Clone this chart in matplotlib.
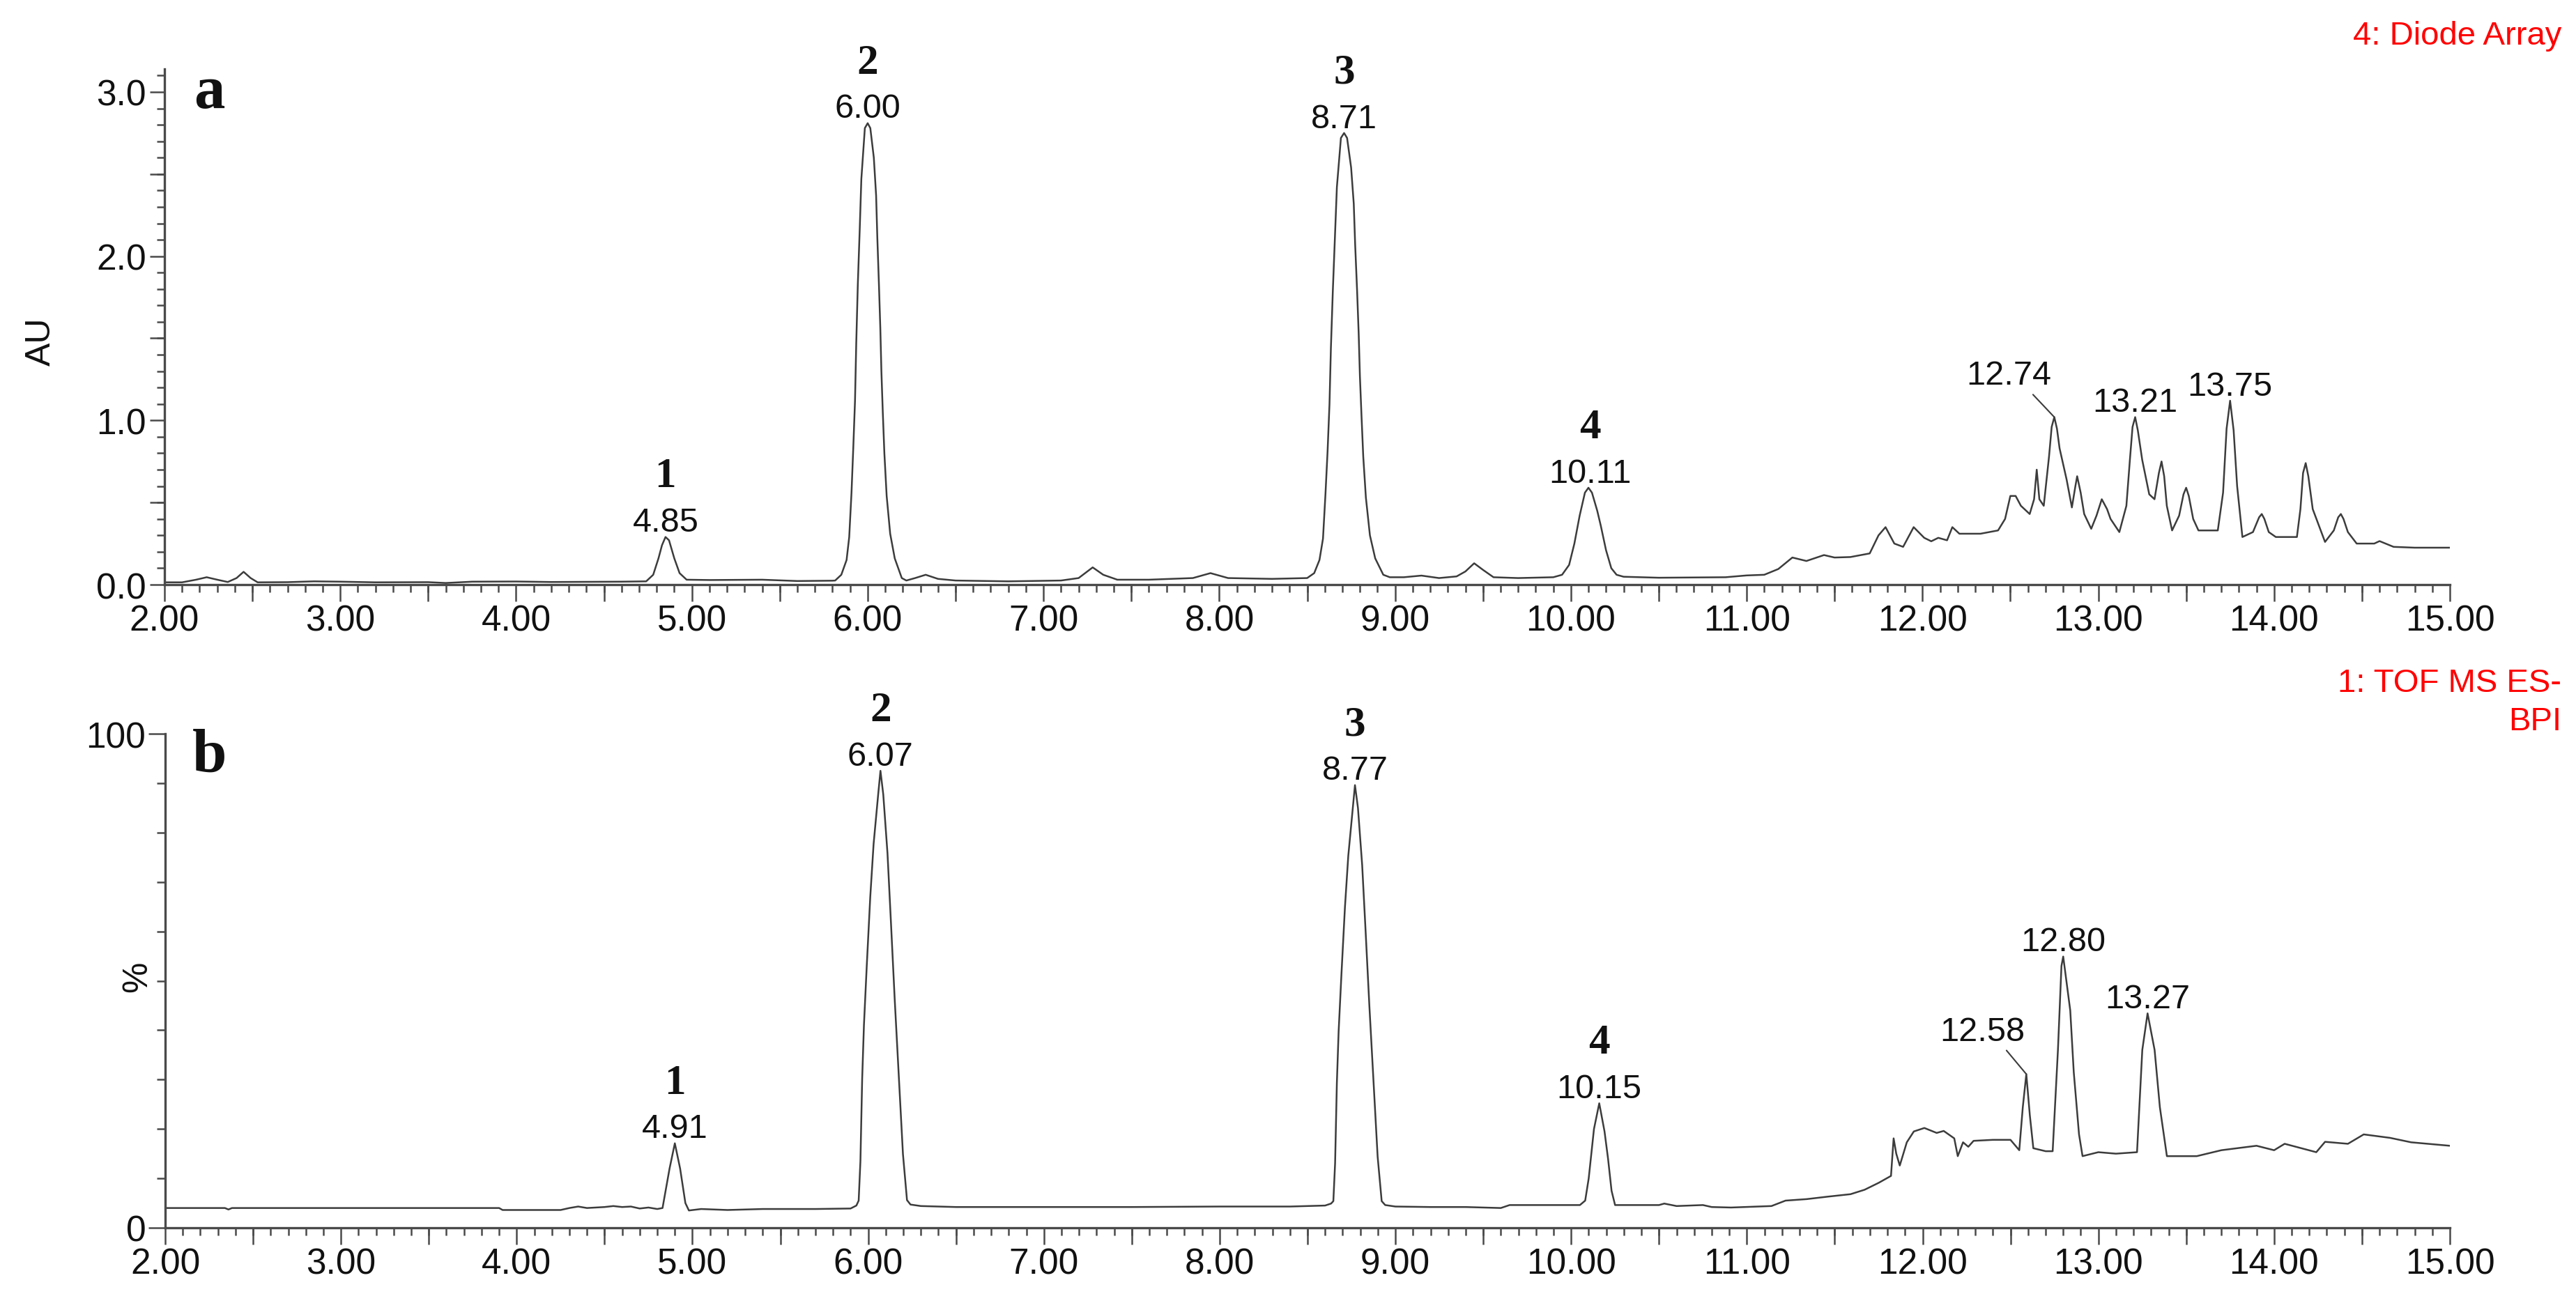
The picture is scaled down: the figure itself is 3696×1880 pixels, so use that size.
import matplotlib
matplotlib.use("Agg")
import matplotlib.pyplot as plt
from matplotlib.ticker import MultipleLocator, FixedLocator, FormatStrFormatter

plt.rcParams['font.family'] = ['Liberation Sans', 'DejaVu Sans']

# ---------------- data: panel a (Diode Array, AU) ----------------
time_a = [2.00, 2.10, 2.18, 2.24, 2.30, 2.36, 2.41, 2.45, 2.49, 2.53, 2.70, 2.85, 3.00, 3.20, 3.50, 3.60,
          3.75, 4.00, 4.20, 4.40, 4.60, 4.74, 4.78, 4.81, 4.83, 4.85, 4.87, 4.90, 4.93, 4.97, 5.10, 5.40,
          5.60, 5.80, 5.815, 5.85, 5.88, 5.895, 5.908, 5.918, 5.928, 5.935, 5.944, 5.955, 5.964, 5.984,
          6.000, 6.015, 6.035, 6.048, 6.055, 6.064, 6.072, 6.078, 6.086, 6.095, 6.108, 6.128, 6.154,
          6.194, 6.22, 6.27, 6.33, 6.40, 6.50, 6.80, 7.10, 7.20, 7.28, 7.34, 7.42, 7.60, 7.85, 7.95,
          8.05, 8.30, 8.50, 8.54, 8.57, 8.59, 8.604, 8.616, 8.627, 8.635, 8.646, 8.658, 8.669, 8.692,
          8.710, 8.727, 8.750, 8.765, 8.773, 8.784, 8.793, 8.800, 8.809, 8.819, 8.834, 8.857, 8.887,
          8.933, 8.97, 9.05, 9.15, 9.25, 9.35, 9.40, 9.45, 9.50, 9.56, 9.70, 9.90, 9.95, 9.99, 10.02,
          10.05, 10.08, 10.10, 10.12, 10.15, 10.17, 10.20, 10.23, 10.26, 10.30, 10.50, 10.88, 11.00,
          11.10, 11.18, 11.26, 11.34, 11.44, 11.50, 11.59, 11.70, 11.75, 11.79, 11.84, 11.89, 11.95,
          12.01, 12.05, 12.09, 12.14, 12.17, 12.21, 12.33, 12.43, 12.47, 12.50, 12.53, 12.56, 12.61,
          12.635, 12.65, 12.665, 12.69, 12.72, 12.735, 12.75, 12.765, 12.78, 12.82, 12.85, 12.87,
          12.88, 12.90, 12.92, 12.96, 12.99, 13.02, 13.05, 13.07, 13.12, 13.16, 13.18, 13.195, 13.21,
          13.225, 13.25, 13.29, 13.32, 13.345, 13.36, 13.375, 13.39, 13.42, 13.46, 13.485, 13.50,
          13.515, 13.54, 13.57, 13.68, 13.71, 13.73, 13.75, 13.77, 13.79, 13.82, 13.88, 13.915, 13.93,
          13.945, 13.97, 14.01, 14.13, 14.15, 14.165, 14.18, 14.195, 14.22, 14.29, 14.34, 14.365,
          14.38, 14.395, 14.42, 14.47, 14.57, 14.60, 14.68, 14.80, 15.00]
au_a = [0.014, 0.014, 0.030, 0.045, 0.030, 0.016, 0.040, 0.078, 0.040, 0.014, 0.015, 0.020, 0.018, 0.014,
        0.015, 0.010, 0.018, 0.019, 0.016, 0.017, 0.018, 0.020, 0.060, 0.160, 0.240, 0.290, 0.270, 0.160,
        0.070, 0.030, 0.028, 0.030, 0.022, 0.024, 0.025, 0.060, 0.150, 0.290, 0.560, 0.830, 1.120, 1.470,
        1.830, 2.170, 2.470, 2.780, 2.810, 2.780, 2.600, 2.370, 2.110, 1.830, 1.560, 1.300, 1.050, 0.800,
        0.540, 0.310, 0.160, 0.040, 0.025, 0.040, 0.060, 0.035, 0.025, 0.020, 0.025, 0.040, 0.105, 0.060,
        0.030, 0.030, 0.040, 0.070, 0.040, 0.035, 0.040, 0.070, 0.150, 0.280, 0.550, 0.810, 1.100, 1.440,
        1.790, 2.120, 2.420, 2.720, 2.750, 2.720, 2.540, 2.320, 2.070, 1.790, 1.530, 1.270, 1.030, 0.780,
        0.530, 0.300, 0.160, 0.060, 0.045, 0.045, 0.055, 0.040, 0.050, 0.080, 0.130, 0.090, 0.045, 0.040,
        0.045, 0.060, 0.120, 0.250, 0.420, 0.560, 0.590, 0.560, 0.450, 0.360, 0.210, 0.100, 0.060, 0.048,
        0.042, 0.045, 0.056, 0.060, 0.095, 0.165, 0.144, 0.180, 0.165, 0.168, 0.190, 0.300, 0.350, 0.250,
        0.230, 0.350, 0.285, 0.264, 0.285, 0.270, 0.350, 0.310, 0.310, 0.330, 0.400, 0.540, 0.540, 0.480,
        0.430, 0.520, 0.700, 0.520, 0.480, 0.780, 0.960, 1.020, 0.950, 0.830, 0.640, 0.470, 0.600,
        0.660, 0.560, 0.430, 0.340, 0.420, 0.520, 0.460, 0.400, 0.320, 0.480, 0.760, 0.960, 1.020,
        0.940, 0.760, 0.550, 0.520, 0.680, 0.750, 0.660, 0.480, 0.330, 0.420, 0.550, 0.590,
        0.540, 0.400, 0.330, 0.330, 0.560, 0.950, 1.120, 0.940, 0.600, 0.290, 0.320, 0.410, 0.430,
        0.400, 0.320, 0.290, 0.290, 0.460, 0.680, 0.740, 0.660, 0.460, 0.260, 0.330, 0.410,
        0.430, 0.400, 0.320, 0.250, 0.250, 0.265, 0.230, 0.225, 0.225]

# labelled peaks, panel a
peak_a_time = [4.85, 6.00, 8.71, 10.11]
peak_a_height = [0.29, 2.81, 2.75, 0.59]
peak_a_text = ["4.85", "6.00", "8.71", "10.11"]
peak_a_num = ["1", "2", "3", "4"]
extra_a_time = [13.21, 13.75]
extra_a_height = [1.02, 1.12]
extra_a_text = ["13.21", "13.75"]
lead_a = {"text": "12.74", "peak": (12.75, 1.02), "label": (12.49, 1.22)}

# ---------------- data: panel b (TOF MS ES- BPI, %) ----------------
time_b = [2.00, 2.34, 2.36, 2.38, 3.90, 3.92, 4.25, 4.30, 4.35, 4.40, 4.50, 4.55, 4.60, 4.65, 4.70, 4.75,
          4.80, 4.83, 4.87, 4.90, 4.93, 4.96, 4.98, 5.05, 5.20, 5.40, 5.70, 5.90, 5.933, 5.946, 5.956,
          5.966, 5.976, 5.992, 6.012, 6.031, 6.057, 6.070, 6.086, 6.110, 6.129, 6.151, 6.175, 6.198,
          6.221, 6.241, 6.30, 6.50, 7.00, 7.50, 8.00, 8.40, 8.60, 8.634, 8.647, 8.657, 8.667, 8.677,
          8.693, 8.713, 8.732, 8.758, 8.770, 8.787, 8.811, 8.830, 8.852, 8.876, 8.899, 8.922, 8.942,
          9.00, 9.20, 9.40, 9.60, 9.65, 10.05, 10.08, 10.10, 10.13, 10.16, 10.19, 10.21, 10.23, 10.25,
          10.50, 10.53, 10.60, 10.75, 10.80, 10.91, 11.14, 11.22, 11.34, 11.46, 11.59, 11.67, 11.75,
          11.82, 11.835, 11.85, 11.87, 11.91, 11.95, 12.01, 12.08, 12.12, 12.18, 12.20, 12.23, 12.26,
          12.29, 12.40, 12.50, 12.55, 12.57, 12.59, 12.61, 12.63, 12.70, 12.74, 12.77, 12.79, 12.80,
          12.84, 12.86, 12.89, 12.91, 13.00, 13.10, 13.22, 13.25, 13.28, 13.32, 13.35, 13.39, 13.56,
          13.70, 13.90, 14.00, 14.06, 14.24, 14.29, 14.42, 14.51, 14.66, 14.78, 15.00]
pct_b = [4.0, 4.0, 3.7, 4.0, 4.0, 3.6, 3.6, 4.0, 4.3, 4.0, 4.2, 4.4, 4.2, 4.3, 3.9, 4.1,
         3.8, 4.0, 12.0, 17.1, 12.0, 5.0, 3.5, 3.8, 3.6, 3.8, 3.8, 3.9, 4.5, 5.5, 13.5,
         30.2, 41.0, 53.0, 67.0, 77.7, 87.7, 92.5, 87.7, 75.8, 62.3, 46.3, 30.2, 14.9,
         5.6, 4.7, 4.4, 4.2, 4.2, 4.2, 4.3, 4.3, 4.5, 4.9, 5.4, 13.1, 29.3, 39.7,
         51.3, 64.9, 75.3, 85.0, 89.6, 85.0, 73.4, 60.4, 44.9, 29.3, 14.4, 5.4, 4.6,
         4.3, 4.2, 4.2, 4.0, 4.6, 4.6, 5.5, 10.0, 20.0, 25.2, 19.5, 14.0, 7.5, 4.6,
         4.6, 4.9, 4.4, 4.6, 4.2, 4.1, 4.4, 5.5, 5.8, 6.3, 6.8, 7.7, 9.1,
         10.5, 18.1, 15.0, 12.6, 17.3, 19.5, 20.2, 19.2, 19.6, 18.1, 14.5, 17.3, 16.4,
         17.6, 17.8, 17.8, 15.7, 24.4, 31.1, 22.8, 16.1, 15.5, 15.5, 36.0, 53.0, 54.9,
         44.0, 31.5, 18.9, 14.5, 15.3, 15.0, 15.3, 36.0, 43.4, 36.0, 24.4, 14.5, 14.5,
         15.7, 16.6, 15.7, 17.0, 15.3, 17.4, 17.0, 18.9, 18.2, 17.3, 16.6]

peak_b_time = [4.90, 6.07, 8.77, 10.16]
peak_b_height = [17.1, 92.5, 89.6, 25.2]
peak_b_text = ["4.91", "6.07", "8.77", "10.15"]
peak_b_num = ["1", "2", "3", "4"]
extra_b_time = [12.80, 13.28]
extra_b_height = [54.9, 43.4]
extra_b_text = ["12.80", "13.27"]
lead_b = {"text": "12.58", "peak": (12.59, 31.1), "label": (12.34, 38.0)}

x_ticks = [2, 3, 4, 5, 6, 7, 8, 9, 10, 11, 12, 13, 14, 15]
x_half_ticks = [2.5, 3.5, 4.5, 5.5, 6.5, 7.5, 8.5, 9.5, 10.5, 11.5, 12.5, 13.5, 14.5]

# ---------------- figure ----------------
W, H, DPI = 3696, 1881, 100
fig = plt.figure(figsize=(W / DPI, H / DPI), dpi=DPI)
fig.patch.set_facecolor("white")

ax_a = fig.add_axes([236 / W, 1 - 840 / H, (3515 - 236) / W, (840 - 100) / H])
ax_b = fig.add_axes([237 / W, 1 - 1763 / H, (3515 - 237) / W, (1763 - 1054) / H])

line_col = "#3c3c3c"
axis_col = "#4a4a4a"
txt_col = "#111111"
tick_fs = 37
ann_fs = 35
num_fs = 44


def style_axes(ax):
    for s in ["top", "right"]:
        ax.spines[s].set_visible(False)
    for s in ["left", "bottom"]:
        ax.spines[s].set_color(axis_col)
        ax.spines[s].set_linewidth(2.4)
    ax.set_xlim(2, 15)
    ax.xaxis.set_major_locator(FixedLocator(x_ticks))
    ax.xaxis.set_major_formatter(FormatStrFormatter("%.2f"))
    ax.xaxis.set_minor_locator(MultipleLocator(0.1))
    ax.tick_params(axis="x", which="major", length=17, width=1.8, color=axis_col,
                   labelsize=tick_fs, pad=3, labelcolor=txt_col)
    ax.tick_params(axis="x", which="minor", length=8, width=1.8, color=axis_col)
    sec = ax.secondary_xaxis("bottom")
    sec.set_xticks(x_half_ticks)
    sec.set_xticklabels([])
    sec.tick_params(length=17, width=1.8, color=axis_col)
    sec.spines["bottom"].set_visible(False)


def label_peaks(ax, times, heights, texts, nums):
    for t, h, s, n in zip(times, heights, texts, nums):
        ax.annotate(s, xy=(t, h), xytext=(0, 6), textcoords="offset points",
                    ha="center", va="baseline", fontsize=ann_fs, color=txt_col)
        if n:
            ax.annotate(n, xy=(t, h), xytext=(0, 52), textcoords="offset points",
                        ha="center", va="baseline", fontsize=num_fs, fontweight="bold",
                        family="Liberation Serif", color=txt_col)


style_axes(ax_a)
style_axes(ax_b)

# ---- panel a ----
ax_a.plot(time_a, au_a, color=line_col, lw=1.8)
ax_a.set_ylim(0, 3.14)
ax_a.yaxis.set_major_locator(FixedLocator([0, 1, 2, 3]))
ax_a.yaxis.set_major_formatter(FormatStrFormatter("%.1f"))
ax_a.yaxis.set_minor_locator(MultipleLocator(0.1))
ax_a.tick_params(axis="y", which="major", length=15, width=1.8, color=axis_col,
                 labelsize=tick_fs, pad=4, labelcolor=txt_col)
ax_a.tick_params(axis="y", which="minor", length=8, width=1.8, color=axis_col)
sec_ya = ax_a.secondary_yaxis("left")
sec_ya.set_yticks([0.5, 1.5, 2.5])
sec_ya.set_yticklabels([])
sec_ya.tick_params(length=15, width=1.8, color=axis_col)
sec_ya.spines["left"].set_visible(False)
ax_a.set_ylabel("AU", fontsize=36, color=txt_col)
ax_a.yaxis.set_label_coords(-0.047, 0.472)

label_peaks(ax_a, peak_a_time, peak_a_height, peak_a_text, peak_a_num)
label_peaks(ax_a, extra_a_time, extra_a_height, extra_a_text, [None] * len(extra_a_text))
ax_a.annotate(lead_a["text"], xy=lead_a["peak"], xytext=lead_a["label"], textcoords="data",
              ha="center", va="baseline", fontsize=ann_fs, color=txt_col,
              arrowprops=dict(arrowstyle="-", color=line_col, lw=1.5,
                              shrinkA=2, shrinkB=0, relpos=(0.75, 0.0)))
ax_a.text(0.0195, 0.925, "a", transform=ax_a.transAxes, fontsize=64, fontweight="bold",
          family="Liberation Serif", ha="center", va="baseline", color=txt_col)

# ---- panel b ----
ax_b.plot(time_b, pct_b, color=line_col, lw=1.8)
ax_b.set_ylim(0, 100)
ax_b.yaxis.set_major_locator(FixedLocator([0, 100]))
ax_b.yaxis.set_major_formatter(FormatStrFormatter("%d"))
ax_b.yaxis.set_minor_locator(MultipleLocator(10))
ax_b.tick_params(axis="y", which="major", length=17, width=1.8, color=axis_col,
                 labelsize=tick_fs, pad=3, labelcolor=txt_col)
ax_b.tick_params(axis="y", which="minor", length=9, width=1.8, color=axis_col)
ax_b.set_ylabel("%", fontsize=36, color=txt_col)
ax_b.yaxis.set_label_coords(-0.005, 0.51)

label_peaks(ax_b, peak_b_time, peak_b_height, peak_b_text, peak_b_num)
label_peaks(ax_b, extra_b_time, extra_b_height, extra_b_text, [None] * len(extra_b_text))
ax_b.annotate(lead_b["text"], xy=lead_b["peak"], xytext=lead_b["label"], textcoords="data",
              ha="center", va="baseline", fontsize=ann_fs, color=txt_col,
              arrowprops=dict(arrowstyle="-", color=line_col, lw=1.5,
                              shrinkA=2, shrinkB=0, relpos=(0.75, 0.0)))
ax_b.text(0.0195, 0.925, "b", transform=ax_b.transAxes, fontsize=64, fontweight="bold",
          family="Liberation Serif", ha="center", va="baseline", color=txt_col)

# ---- red channel titles ----
fig.text(3675 / W, 1 - 64 / H, "4: Diode Array", color="red", fontsize=34, ha="right", va="baseline")
fig.text(3675 / W, 1 - 993 / H, "1: TOF MS ES-", color="red", fontsize=34, ha="right", va="baseline")
fig.text(3675 / W, 1 - 1048 / H, "BPI", color="red", fontsize=34, ha="right", va="baseline")

fig.savefig("out.png", dpi=DPI, facecolor="white")
